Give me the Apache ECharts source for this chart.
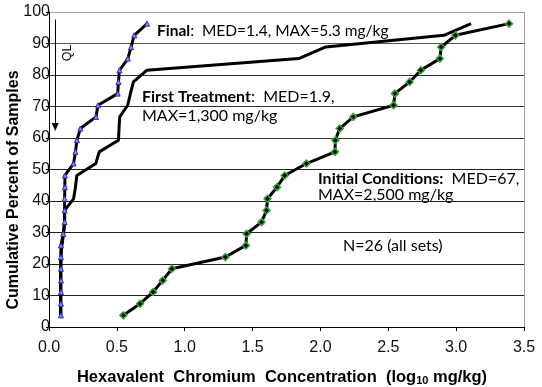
<!DOCTYPE html>
<html>
<head>
<meta charset="utf-8">
<script src="https://cdn.jsdelivr.net/npm/echarts@6/dist/echarts.min.js"></script>
<style>
  html, body { margin: 0; padding: 0; background: #fff; }
  #chart { width: 542px; height: 387px; }
</style>
</head>
<body>
<div id="chart"></div>
<script>
// cumulative percent (rank / 27)
var pct = [3.7, 7.4, 11.1, 14.8, 18.5, 22.2, 25.9, 29.6, 33.3, 37.0, 40.7, 44.4, 48.1,
           51.9, 55.6, 59.3, 63.0, 66.7, 70.4, 74.1, 77.8, 81.5, 85.2, 88.9, 92.6, 96.3];

// log10 mg/kg
var finalLog = [0.088, 0.088, 0.088, 0.088, 0.088, 0.088, 0.088, 0.105, 0.115, 0.115, 0.115, 0.117, 0.117,
                0.181, 0.195, 0.206, 0.231, 0.346, 0.361, 0.506, 0.512, 0.519, 0.581, 0.605, 0.628, 0.723];
var firstLog = [0.085, 0.085, 0.085, 0.085, 0.085, 0.088, 0.095, 0.108, 0.115, 0.115, 0.181, 0.195, 0.205,
                0.345, 0.37, 0.512, 0.516, 0.521, 0.58, 0.6, 0.622, 0.72, 1.84, 2.04, 2.91, 3.11];
var initLog = [0.548, 0.671, 0.767, 0.838, 0.906, 1.30, 1.451, 1.456, 1.566, 1.603, 1.61, 1.68, 1.737,
               1.897, 2.107, 2.11, 2.142, 2.242, 2.539, 2.549, 2.657, 2.74, 2.88, 2.89, 2.995, 3.39];

var xTicks = ['0.0', '0.5', '1.0', '1.5', '2.0', '2.5', '3.0', '3.5'];

function pairs(xs) {
    var out = [];
    for (var i = 0; i < xs.length; i++) {
        out.push([xs[i], pct[i]]);
    }
    return out;
}

var chart = echarts.init(document.getElementById('chart'));

var annoFont = 'Lato, "Open Sans", sans-serif';

var option = {
    animation: false,
    grid: {
        left: 49,
        right: 18,
        top: 12,
        bottom: 60,
        outerBoundsMode: 'none'
    },
    xAxis: {
        type: 'value',
        min: 0,
        max: 3.5,
        interval: 0.5,
        name: 'Hexavalent  Chromium  Concentration  ({b|log}{s|10}{b| mg/kg})',
        nameLocation: 'middle',
        nameGap: 42,
        nameTextStyle: {
            fontFamily: 'Liberation Sans, Arial',
            fontWeight: 'bold',
            fontSize: 16.5,
            color: '#000',
            padding: [0, 9, 0, 0],
            rich: {
                b: { fontFamily: 'Liberation Sans, Arial', fontWeight: 'bold', fontSize: 16.5, color: '#000' },
                s: { fontFamily: 'Liberation Sans, Arial', fontWeight: 'bold', fontSize: 11, color: '#000', padding: [6, 0, 0, 0] }
            }
        },
        axisLine: { lineStyle: { color: '#000', width: 1 } },
        axisTick: { show: true, length: 4, lineStyle: { color: '#000' } },
        axisLabel: {
            margin: 13,
            fontFamily: 'Liberation Sans, Arial',
            fontSize: 16,
            color: '#111',
            formatter: function (v) { return xTicks[Math.round(v / 0.5)]; }
        },
        splitLine: {
            show: true,
            lineStyle: {
                color: ['transparent', 'transparent', 'transparent', 'transparent',
                        'transparent', 'transparent', 'transparent', '#a0a0a0']
            }
        }
    },
    yAxis: {
        type: 'value',
        min: 0,
        max: 100,
        interval: 10,
        axisLine: { show: true, lineStyle: { color: '#000', width: 1 } },
        axisTick: { show: true, length: 3, lineStyle: { color: '#000' } },
        axisLabel: {
            margin: -1,
            fontFamily: 'Liberation Sans, Arial',
            fontSize: 16,
            color: '#111'
        },
        splitLine: {
            show: true,
            lineStyle: {
                color: ['#000', '#222', '#222', '#222', '#222', '#222',
                        '#333', '#333', '#333', '#555', '#a0a0a0'],
                width: 1
            }
        }
    },
    series: [
        {
            name: 'First Treatment',
            type: 'line',
            data: pairs(firstLog),
            symbol: 'none',
            lineStyle: { color: '#000', width: 3 },
            markLine: {
                silent: true,
                symbol: ['none', 'triangle'],
                symbolSize: [7, 8],
                lineStyle: { color: '#000', width: 1, type: 'solid' },
                label: { show: false },
                data: [[{ coord: [0.046, 97.6] }, { coord: [0.046, 63.5] }]]
            }
        },
        {
            name: 'Final',
            type: 'line',
            data: pairs(finalLog),
            symbol: 'triangle',
            symbolSize: 5,
            lineStyle: { color: '#000', width: 3 },
            itemStyle: { color: '#8a8aea', borderColor: '#2a2ac8', borderWidth: 1 }
        },
        {
            name: 'Initial Conditions',
            type: 'line',
            data: pairs(initLog),
            symbol: 'diamond',
            symbolSize: 7,
            lineStyle: { color: '#000', width: 3 },
            itemStyle: { color: '#000', borderColor: '#3aa53a', borderWidth: 1.5 }
        }
    ],
    graphic: [
        {
            // y axis title, sits a bit below the plot middle like the original
            type: 'text', x: 14, y: 190, rotation: Math.PI / 2,
            style: {
                text: 'Cumulative Percent of Samples',
                font: 'bold 16px Liberation Sans, Arial', fill: '#000',
                align: 'center', verticalAlign: 'middle'
            }
        },
        {
            type: 'text', left: 157, top: 23,
            style: {
                text: '{b|Final}:  MED=1.4, MAX=5.3 mg/kg',
                font: '15.5px ' + annoFont, fill: '#000',
                rich: { b: { fontWeight: 'bold', fontFamily: annoFont, fontSize: 15.5 } }
            }
        },
        {
            type: 'text', left: 142, top: 89,
            style: {
                text: '{b|First Treatment}:  MED=1.9,',
                font: '16px ' + annoFont, fill: '#000',
                rich: { b: { fontWeight: 'bold', fontFamily: annoFont, fontSize: 16 } }
            }
        },
        {
            type: 'text', left: 142, top: 108,
            style: { text: 'MAX=1,300 mg/kg', font: '16px ' + annoFont, fill: '#000' }
        },
        {
            type: 'text', left: 318, top: 171,
            style: {
                text: '{b|Initial Conditions:}  MED=67,',
                font: '16px ' + annoFont, fill: '#000',
                rich: { b: { fontWeight: 'bold', fontFamily: annoFont, fontSize: 16 } }
            }
        },
        {
            type: 'text', left: 318, top: 187,
            style: { text: 'MAX=2,500 mg/kg', font: '16px ' + annoFont, fill: '#000' }
        },
        {
            type: 'text', left: 343, top: 238,
            style: { text: 'N=26 (all sets)', font: '16px ' + annoFont, fill: '#000' }
        },
        {
            type: 'text', x: 68, y: 53, rotation: Math.PI / 2,
            style: {
                text: 'QL', font: '12.5px Liberation Sans, Arial', fill: '#000',
                align: 'center', verticalAlign: 'middle'
            }
        }
    ]
};

chart.setOption(option);
</script>
</body>
</html>
